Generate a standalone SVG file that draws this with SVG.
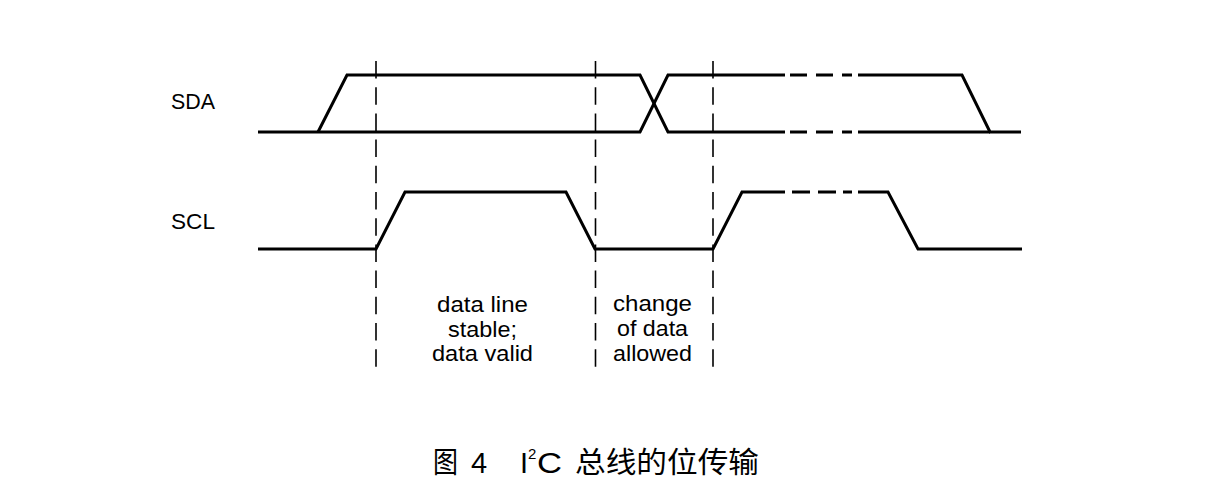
<svg xmlns="http://www.w3.org/2000/svg" width="1217" height="497" viewBox="0 0 1217 497">
<style>
.w{fill:none;stroke:#000;stroke-width:3;stroke-linejoin:miter;stroke-linecap:butt}
.v{fill:none;stroke:#000;stroke-width:1.6;stroke-dasharray:17.5 8.7}
.t{font-family:"Liberation Sans",Arial,sans-serif;font-size:22.5px;fill:#000}
.c{font-family:"Liberation Sans","Noto Sans CJK SC",sans-serif;font-size:29px;fill:#000}
.lbl{text-anchor:middle}
</style>
<rect width="1217" height="497" fill="#fff"/>
<g id="signal-labels">
<text class="t" x="171" y="109" textLength="44" lengthAdjust="spacingAndGlyphs">SDA</text>
<text class="t" x="171" y="229" textLength="44" lengthAdjust="spacingAndGlyphs">SCL</text>
</g>
<g id="connectors">
<g id="sda">
<path class="w" d="M258,132 H640 L668,75 H785"/>
<path class="w" d="M318,132 L347,75 H640 L668,132 H785"/>
<path class="w" d="M790,75 H807 M816,75 H833 M842,75 H852 M790,132 H807 M816,132 H833 M842,132 H852"/>
<path class="w" d="M858,75 H962 L990,132 H1021"/>
<path class="w" d="M858,132 H990"/>
</g>
<g id="scl">
<path class="w" d="M258,249 H376 L405,192 H566 L595,249 H713 L742,192 H785"/>
<path class="w" d="M792,192 H810 M818,192 H836 M843,192 H852"/>
<path class="w" d="M858,192 H888 L918,249 H1022"/>
</g>
<g id="markers">
<line class="v" x1="376" y1="61" x2="376" y2="368"/>
<line class="v" x1="595.5" y1="61" x2="595.5" y2="368"/>
<line class="v" x1="713" y1="61" x2="713" y2="368"/>
</g>
</g>
<g id="label-stable">
<text class="t lbl" x="482.5" y="312" textLength="91" lengthAdjust="spacingAndGlyphs">data line</text>
<text class="t lbl" x="482.5" y="337" textLength="69" lengthAdjust="spacingAndGlyphs">stable;</text>
<text class="t lbl" x="482.5" y="361" textLength="101" lengthAdjust="spacingAndGlyphs">data valid</text>
</g>
<g id="label-change">
<text class="t lbl" x="652.5" y="311" textLength="79" lengthAdjust="spacingAndGlyphs">change</text>
<text class="t lbl" x="652.5" y="336" textLength="71" lengthAdjust="spacingAndGlyphs">of data</text>
<text class="t lbl" x="652.5" y="361" textLength="79" lengthAdjust="spacingAndGlyphs">allowed</text>
</g>
<g id="caption">
<text class="c" x="433" y="473" textLength="25" lengthAdjust="spacingAndGlyphs">图</text>
<text class="c" x="471" y="473">4</text>
<text class="c" x="520" y="473">I</text>
<text class="c" x="528" y="459" style="font-size:15px">2</text>
<text class="c" x="537" y="473" textLength="25" lengthAdjust="spacingAndGlyphs">C</text>
<text class="c" x="575" y="473" textLength="184" lengthAdjust="spacingAndGlyphs">总线的位传输</text>
</g>
</svg>
